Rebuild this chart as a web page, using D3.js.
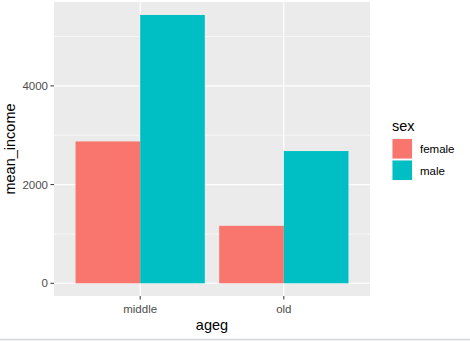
<!DOCTYPE html>
<html>
<head>
<meta charset="utf-8">
<script src="https://cdn.jsdelivr.net/npm/d3@7"></script>
<style>
    body { margin: 0; background: #fff; }
    text { font-family: "Liberation Sans", Arial, sans-serif; }
</style>
</head>
<body>
<div id="chart"></div>
<script>
// chart data
var ageGroups = ["middle", "old"];
var sexes = ["female", "male"];
var femaleIncome = [2875, 1165];
var maleIncome = [5437, 2680];
var yTicks = [0, 2000, 4000];

var svgWidth = 470;
var svgHeight = 341;

var panel = { left: 54, top: 2, right: 370, bottom: 296 };

var svg = d3.select("#chart")
    .append("svg")
    .attr("width", svgWidth)
    .attr("height", svgHeight);

// y scale: 0 sits at 283.3, 2000 units ~ 98.7px
var yScale = d3.scaleLinear()
    .domain([0, 2000])
    .range([283.3, 184.6]);

// discrete x with ggplot style expansion (0.6 each side)
var xPos = d3.scaleLinear()
    .domain([0.4, 2.6])
    .range([panel.left, panel.right]);

var colors = d3.scaleOrdinal()
    .domain(sexes)
    .range(["#F8766D", "#00BFC4"]);

// panel background
svg.append("rect")
    .attr("x", panel.left)
    .attr("y", panel.top)
    .attr("width", panel.right - panel.left)
    .attr("height", panel.bottom - panel.top)
    .attr("fill", "#EBEBEB");

// minor gridlines
var minorTicks = [1000, 3000, 5000];
svg.selectAll(".minor")
    .data(minorTicks)
    .enter()
    .append("line")
    .attr("x1", panel.left)
    .attr("x2", panel.right)
    .attr("y1", d => yScale(d))
    .attr("y2", d => yScale(d))
    .attr("stroke", "#fff")
    .attr("stroke-width", 0.6);

// major gridlines
svg.selectAll(".majorY")
    .data(yTicks)
    .enter()
    .append("line")
    .attr("x1", panel.left)
    .attr("x2", panel.right)
    .attr("y1", d => yScale(d))
    .attr("y2", d => yScale(d))
    .attr("stroke", "#fff")
    .attr("stroke-width", 1.1);

svg.selectAll(".majorX")
    .data(ageGroups)
    .enter()
    .append("line")
    .attr("x1", (d, i) => xPos(i + 1))
    .attr("x2", (d, i) => xPos(i + 1))
    .attr("y1", panel.top)
    .attr("y2", panel.bottom)
    .attr("stroke", "#fff")
    .attr("stroke-width", 1.1);

// dodged bars
var barWidth = xPos(1.45) - xPos(1);
var rows = [];
ageGroups.forEach(function(g, i) {
    rows.push({ group: i, sex: "female", value: femaleIncome[i], offset: -1 });
    rows.push({ group: i, sex: "male", value: maleIncome[i], offset: 0 });
});

svg.selectAll(".bar")
    .data(rows)
    .enter()
    .append("rect")
    .attr("x", d => xPos(d.group + 1) + d.offset * barWidth)
    .attr("y", d => yScale(d.value))
    .attr("width", barWidth)
    .attr("height", d => yScale(0) - yScale(d.value))
    .attr("fill", d => colors(d.sex));

// y axis ticks + labels
var yAxis = svg.append("g");
yAxis.selectAll("line")
    .data(yTicks)
    .enter()
    .append("line")
    .attr("x1", panel.left - 3.5)
    .attr("x2", panel.left)
    .attr("y1", d => yScale(d))
    .attr("y2", d => yScale(d))
    .attr("stroke", "#333")
    .attr("stroke-width", 1);

yAxis.selectAll("text")
    .data(yTicks)
    .enter()
    .append("text")
    .attr("x", panel.left - 6)
    .attr("y", d => yScale(d))
    .attr("dy", "0.35em")
    .attr("text-anchor", "end")
    .attr("font-size", 11.5)
    .attr("fill", "#4D4D4D")
    .text(d => d);

// x axis ticks + labels
var xAxis = svg.append("g");
xAxis.selectAll("line")
    .data(ageGroups)
    .enter()
    .append("line")
    .attr("x1", (d, i) => xPos(i + 1))
    .attr("x2", (d, i) => xPos(i + 1))
    .attr("y1", panel.bottom)
    .attr("y2", panel.bottom + 3.5)
    .attr("stroke", "#333")
    .attr("stroke-width", 1);

xAxis.selectAll("text")
    .data(ageGroups)
    .enter()
    .append("text")
    .attr("x", (d, i) => xPos(i + 1))
    .attr("y", 313)
    .attr("text-anchor", "middle")
    .attr("font-size", 11.5)
    .attr("fill", "#4D4D4D")
    .text(d => d);

// axis titles
svg.append("text")
    .attr("x", (panel.left + panel.right) / 2)
    .attr("y", 330)
    .attr("text-anchor", "middle")
    .attr("font-size", 14.5)
    .attr("fill", "#000")
    .text("ageg");

svg.append("text")
    .attr("transform", `translate(15, ${(panel.top + panel.bottom) / 2}) rotate(-90)`)
    .attr("text-anchor", "middle")
    .attr("font-size", 14.5)
    .attr("fill", "#000")
    .text("mean_income");

// legend
var legend = svg.append("g")
    .attr("transform", "translate(392, 0)");

legend.append("text")
    .attr("x", 0)
    .attr("y", 131)
    .attr("font-size", 14.5)
    .attr("fill", "#000")
    .text("sex");

var keys = legend.selectAll(".key")
    .data(sexes)
    .enter()
    .append("g")
    .attr("transform", (d, i) => `translate(0, ${138.5 + i * 21.5})`);

keys.append("rect")
    .attr("width", 20.5)
    .attr("height", 20.5)
    .attr("fill", "#F2F2F2");

keys.append("rect")
    .attr("x", 0.5)
    .attr("y", 0.5)
    .attr("width", 19.5)
    .attr("height", 19.5)
    .attr("fill", d => colors(d));

keys.append("text")
    .attr("x", 28)
    .attr("y", 10.5)
    .attr("dy", "0.35em")
    .attr("font-size", 11.5)
    .attr("fill", "#000")
    .text(d => d);

// bottom frame line of the screenshot
svg.append("line")
    .attr("x1", 0)
    .attr("x2", svgWidth)
    .attr("y1", 339.5)
    .attr("y2", 339.5)
    .attr("stroke", "#D3D7DA")
    .attr("stroke-width", 1.5);
</script>
</body>
</html>
